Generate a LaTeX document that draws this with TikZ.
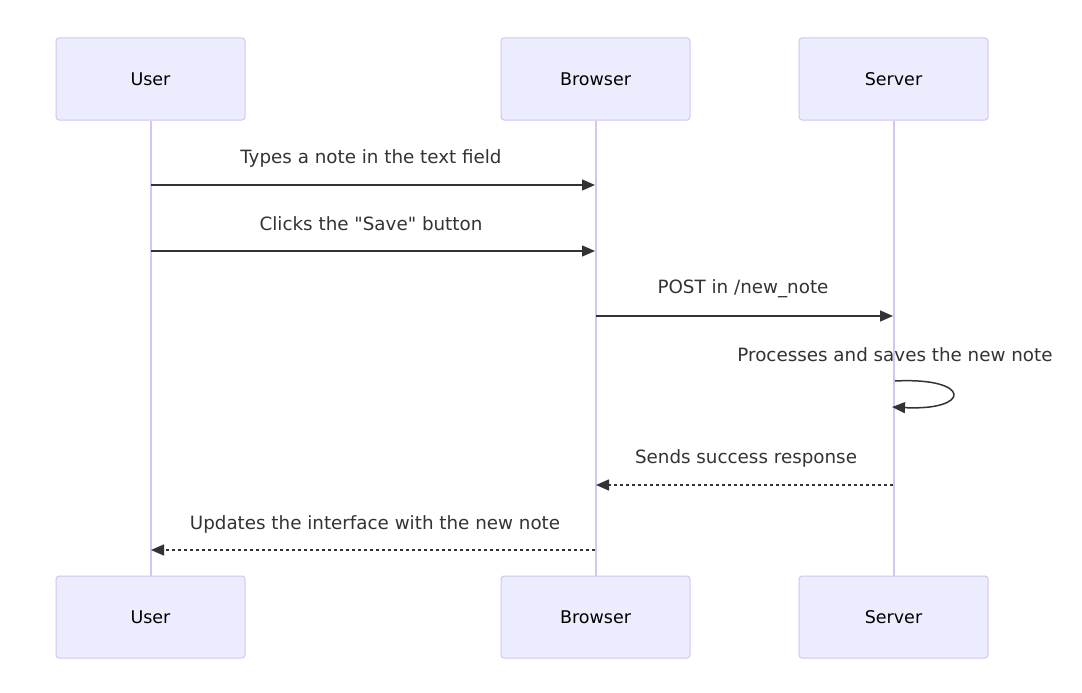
\documentclass[tikz,border=0pt]{standalone}
\usepackage{fontspec}
\setmainfont{DejaVu Sans}[Ligatures=TeXOff]
\usetikzlibrary{arrows.meta}
\definecolor{actorfill}{HTML}{ECECFF}
\definecolor{actorline}{HTML}{D2C6F2}
\definecolor{msgline}{HTML}{333333}
\tikzset{
	actor/.style={draw=actorline, fill=actorfill, rounded corners=3pt, line width=1pt,
		minimum width=189pt, minimum height=82pt, font=\fontsize{17.5}{20}\selectfont, text=black},
	lifeline/.style={draw=actorline, line width=2pt},
	msg/.style={draw=msgline, line width=1.5pt, -{Triangle[length=13pt, width=11pt]}},
	reply/.style={msg, dash pattern=on 3pt off 3pt},
	msglabel/.style={font=\fontsize{18.3}{21}\selectfont, text=msgline}
}
\begin{document}
\begin{tikzpicture}[x=1pt, y=-1pt]
			\useasboundingbox[fill=white] (0, 0) rectangle (1082, 693);
			% attori in alto
			\node[actor] (userTop) at (150.5, 79) {User};
			\node[actor] (browserTop) at (595.5, 79) {Browser};
			\node[actor] (serverTop) at (893.5, 79) {Server};
			% attori in basso
			\node[actor] (userBot) at (150.5, 617) {User};
			\node[actor] (browserBot) at (595.5, 617) {Browser};
			\node[actor] (serverBot) at (893.5, 617) {Server};
			% linee di vita
			\draw[lifeline] (userTop.south) -- (userBot.north);
			\draw[lifeline] (browserTop.south) -- (browserBot.north);
			\draw[lifeline] (serverTop.south) -- (serverBot.north);
			% punti sulle linee di vita
			\coordinate (u1) at (151, 185);
			\coordinate (b1) at (595, 185);
			\coordinate (u2) at (151, 251);
			\coordinate (b2) at (595, 251);
			\coordinate (b3) at (596, 316);
			\coordinate (s3) at (893, 316);
			\coordinate (s4a) at (895, 381);
			\coordinate (s4b) at (892, 407);
			\coordinate (s5) at (893, 485);
			\coordinate (b5) at (596, 485);
			\coordinate (b6) at (595, 550);
			\coordinate (u6) at (151, 550);
			% messaggi
			\draw[msg] (u1) -- (b1);
			\node[msglabel] (typesLbl) at (371, 158) {Types a note in the text field};
			\draw[msg] (u2) -- (b2);
			\node[msglabel] (clicksLbl) at (371, 224) {Clicks the "Save" button};
			\draw[msg] (b3) -- (s3);
			\node[msglabel] (postLbl) at (743, 289) {POST in /new\_note};
			\draw[msg] (s4a) .. controls (972, 377) and (972, 411) .. (s4b);
			\node[msglabel] (procLbl) at (895, 355) {Processes and saves the new note};
			\draw[reply] (s5) -- (b5);
			\node[msglabel] (sendsLbl) at (746, 458) {Sends success response};
			\draw[reply] (b6) -- (u6);
			\node[msglabel] (updLbl) at (375, 524) {Updates the interface with the new note};
		\end{tikzpicture}
\end{document}
